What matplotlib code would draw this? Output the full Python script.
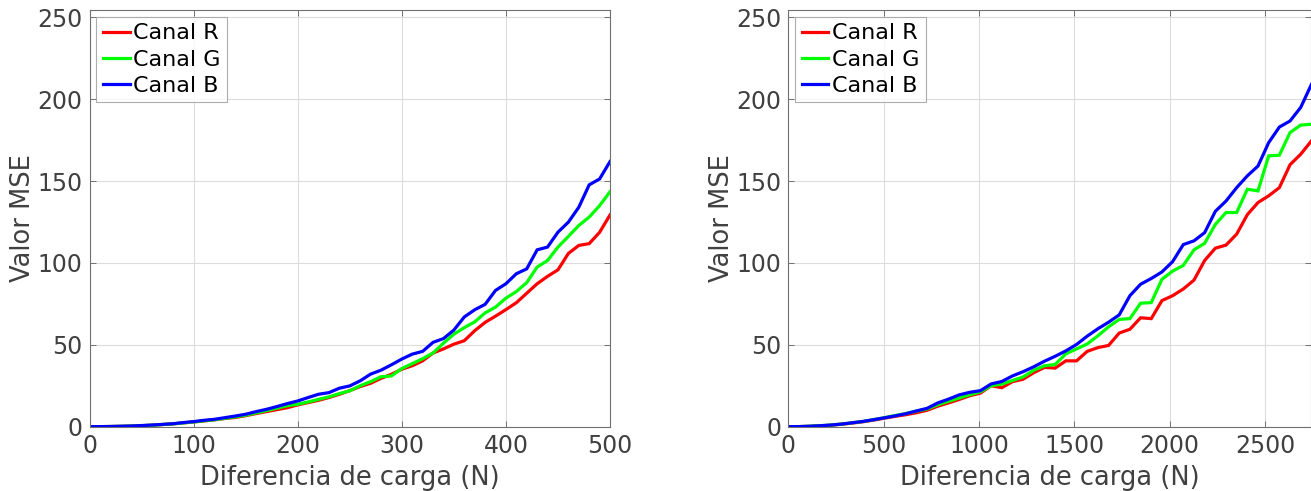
import matplotlib.pyplot as plt
import numpy as np

# Load difference (N) for each experiment
carga_a = np.arange(0, 501, 10)
carga_b = np.arange(0, 2745, 56)

# MSE per colour channel, first experiment (0-500 N)
mse_a_r = [0, 0.03, 0.1, 0.2, 0.35, 0.6, 0.9, 1.3, 1.7, 2.3,
           2.9, 3.5, 4.2, 5.0, 5.6, 6.7, 8.0, 9.2, 10.4, 11.6,
           13.3, 14.7, 16.1, 17.8, 19.8, 22.0, 24.5, 26.5, 29.5, 32.0,
           35.1, 37.2, 40.2, 45.0, 47.5, 50.4, 52.5, 58.6, 63.7, 67.5,
           71.5, 75.7, 81.5, 87.3, 91.8, 95.8, 105.8, 110.7, 111.8, 118.7,
           129.3]
mse_a_g = [0, 0.03, 0.1, 0.2, 0.35, 0.6, 0.9, 1.3, 1.7, 2.3,
           2.9, 3.6, 4.2, 5.1, 6.0, 7.0, 8.4, 9.8, 11.3, 12.8,
           13.7, 15.1, 16.7, 18.2, 20.2, 21.9, 25.0, 27.5, 30.5, 31.0,
           35.5, 38.5, 41.5, 45.0, 51.0, 56.5, 60.5, 64.0, 69.5, 73.0,
           78.5, 82.5, 88.0, 97.5, 101.5, 109.7, 116.2, 122.9, 128.0, 135.0,
           143.5]
mse_a_b = [0, 0.03, 0.1, 0.25, 0.4, 0.7, 1.0, 1.4, 1.8, 2.5,
           3.1, 3.9, 4.5, 5.5, 6.5, 7.6, 9.2, 10.6, 12.3, 14.1,
           15.7, 17.8, 19.8, 20.8, 23.5, 24.9, 28.0, 32.1, 34.5, 37.8,
           41.3, 44.3, 46.0, 51.5, 53.8, 59.0, 67.0, 71.4, 74.7, 83.2,
           87.3, 93.4, 96.4, 108.0, 109.7, 118.8, 124.9, 134.0, 147.7, 151.3,
           161.9]

# MSE per colour channel, second experiment (0-2744 N)
mse_b_r = [0, 0.05, 0.2, 0.5, 0.9, 1.5, 2.2, 3.0, 4.0, 5.2,
           6.3, 7.3, 8.5, 10.0, 12.5, 14.5, 16.6, 18.9, 20.5, 25.0,
           23.8, 27.5, 29.0, 33.0, 36.2, 35.8, 40.2, 40.2, 46.0, 48.3,
           49.6, 57.2, 59.5, 66.5, 66.0, 77.0, 80.0, 84.1, 89.5, 101.5,
           109.0, 110.9, 117.6, 129.5, 136.9, 141.0, 146.0, 160.0, 166.4, 174.5]
mse_b_g = [0, 0.05, 0.25, 0.6, 1.0, 1.6, 2.4, 3.2, 4.3, 5.5,
           6.8, 8.0, 9.5, 10.8, 13.4, 15.5, 17.5, 19.5, 21.3, 25.0,
           26.0, 28.2, 30.4, 34.5, 37.2, 38.0, 44.5, 47.5, 50.5, 55.5,
           61.0, 65.5, 66.0, 75.4, 75.8, 90.0, 95.0, 98.5, 108.0, 112.0,
           123.5, 130.8, 130.8, 145.0, 144.0, 165.4, 165.8, 179.6, 184.2, 184.7]
mse_b_b = [0, 0.05, 0.25, 0.6, 1.0, 1.6, 2.4, 3.2, 4.3, 5.4,
           6.6, 7.9, 9.6, 11.2, 14.5, 16.8, 19.4, 21.0, 22.0, 26.1,
           27.6, 31.0, 33.6, 36.6, 40.0, 43.0, 46.3, 50.2, 55.3, 59.8,
           63.8, 68.3, 80.0, 87.0, 90.5, 94.5, 100.8, 111.2, 113.5, 118.5,
           131.5, 137.8, 146.0, 153.2, 159.2, 173.5, 183.0, 186.7, 195.0, 209.0]

labels = ["Canal R", "Canal G", "Canal B"]
colors = ["#ff0000", "#00ff00", "#0000ff"]
text_gray = "#404040"

fig = plt.figure(figsize=(13.11, 4.91), dpi=100)
ax1 = fig.add_axes([0.0683, 0.131, 0.3970, 0.8487])
ax2 = fig.add_axes([0.6013, 0.131, 0.3990, 0.8487])

panels = [
    (ax1, carga_a, [mse_a_r, mse_a_g, mse_a_b], 500, [0, 100, 200, 300, 400, 500]),
    (ax2, carga_b, [mse_b_r, mse_b_g, mse_b_b], 2744, [0, 500, 1000, 1500, 2000, 2500]),
]

for ax, x, series, xmax, xticks in panels:
    for y, lab, col in zip(series, labels, colors):
        ax.plot(x, y, color=col, lw=2.3, label=lab, solid_joinstyle="miter")
    ax.set_xlim(0, xmax)
    ax.set_ylim(0, 254.5)
    ax.set_xticks(xticks)
    ax.set_yticks([0, 50, 100, 150, 200, 250])
    ax.grid(True, color="#dcdcdc", lw=0.8)
    ax.set_axisbelow(True)
    ax.tick_params(direction="in", top=True, right=True, length=4, pad=5,
                   labelsize=17, colors=text_gray, color="#707070", width=0.7)
    for sp in ax.spines.values():
        sp.set_color("#707070")
        sp.set_linewidth(0.8)
    ax.set_xlabel("Diferencia de carga (N)", fontsize=18.5, color=text_gray, labelpad=5)
    ax.set_ylabel("Valor MSE", fontsize=18.5, color=text_gray, labelpad=1)
    leg = ax.legend(loc="upper left", fontsize=16, frameon=True, fancybox=False,
                    edgecolor="#999999", handlelength=1.2, handletextpad=0.15,
                    labelspacing=0.28, borderpad=0.3, borderaxespad=0.3)
    leg.get_frame().set_linewidth(0.8)

fig.savefig("out.png", dpi=100)
